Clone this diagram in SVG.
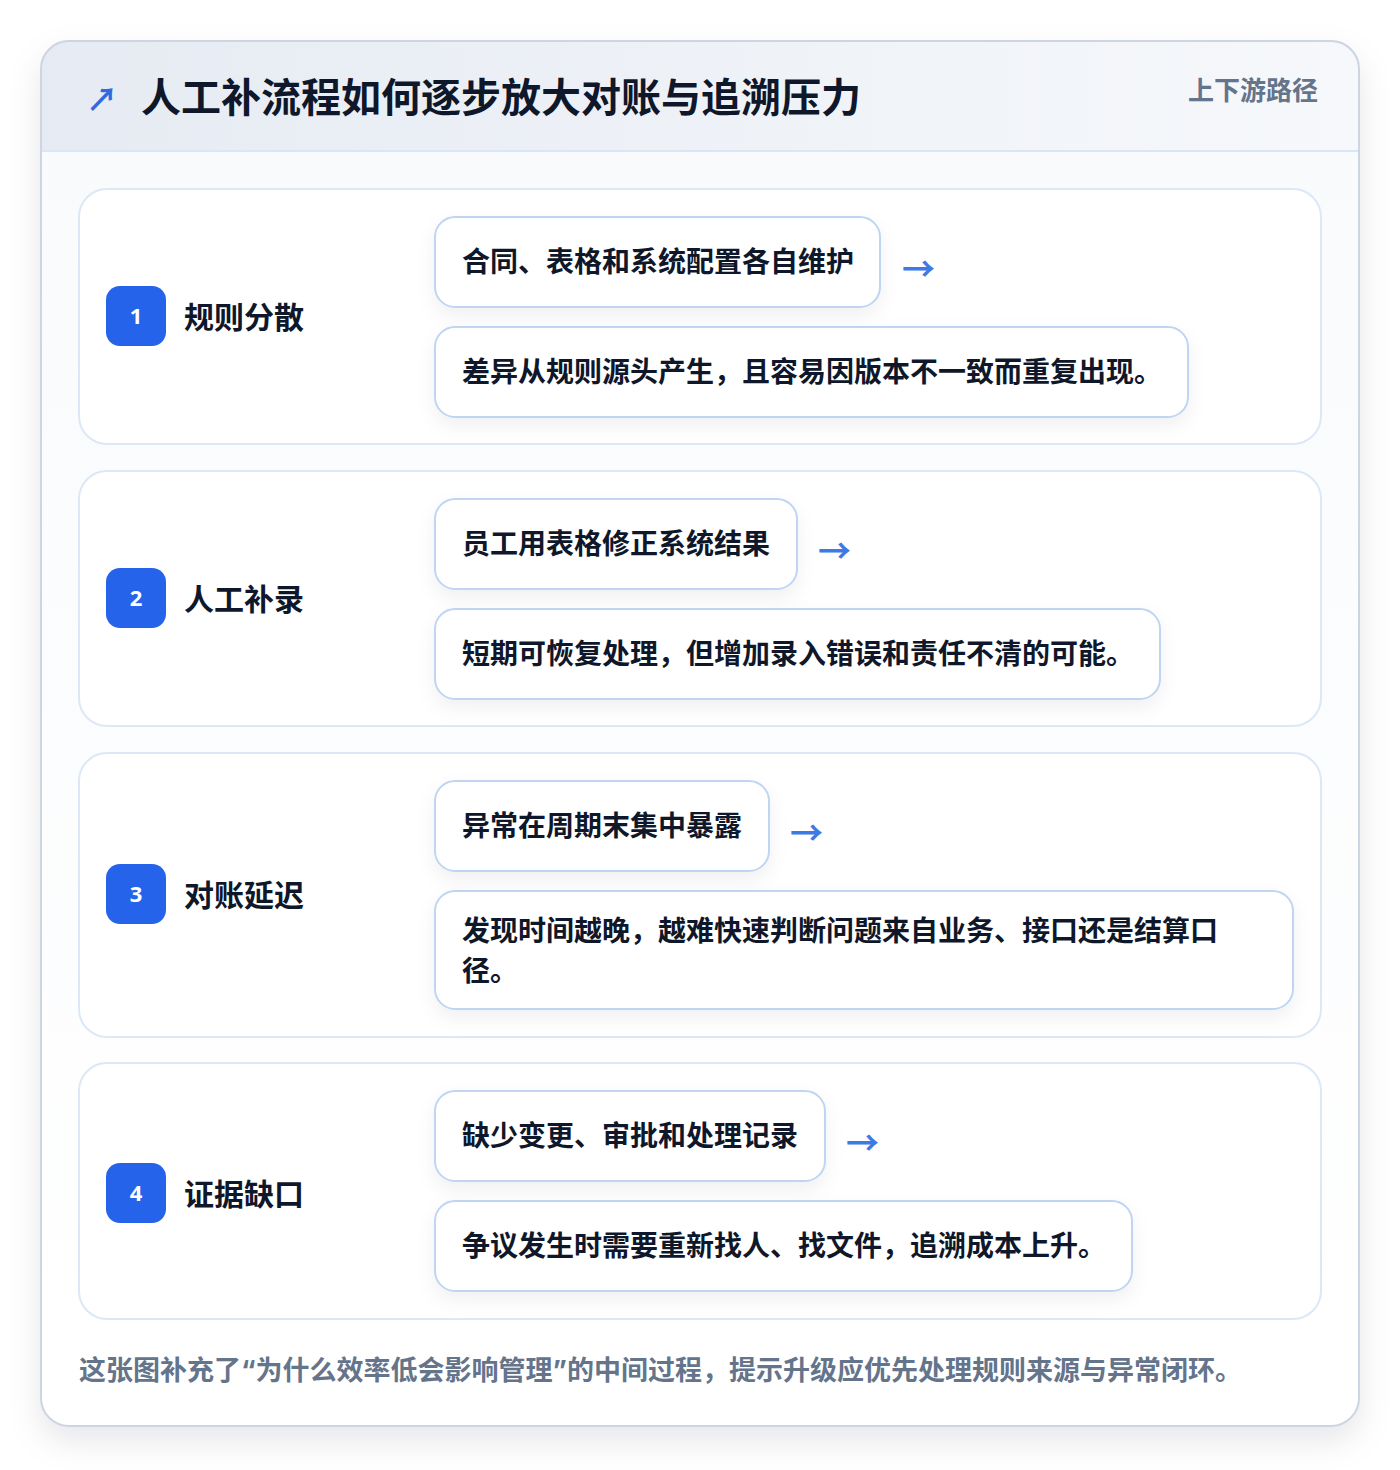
<svg xmlns="http://www.w3.org/2000/svg" width="1400" height="1470" viewBox="0 0 1400 1470">
<defs>
<linearGradient id="hdr" x1="0" y1="0" x2="1" y2="0">
<stop offset="0" stop-color="#e6ebf3"/>
<stop offset="1" stop-color="#f6f8fb"/>
</linearGradient>
<linearGradient id="body" x1="0" y1="0" x2="0" y2="1">
<stop offset="0" stop-color="#f8fafc"/>
<stop offset="1" stop-color="#ffffff"/>
</linearGradient>
<filter id="outerShadow" x="-10%" y="-10%" width="120%" height="120%">
<feDropShadow dx="0" dy="14" stdDeviation="16" flood-color="#0f172a" flood-opacity="0.10"/>
</filter>
<filter id="boxShadow" x="-10%" y="-20%" width="120%" height="150%">
<feDropShadow dx="0" dy="8" stdDeviation="9" flood-color="#0f172a" flood-opacity="0.06"/>
</filter>
<clipPath id="cardClip"><rect x="41" y="41" width="1318" height="1385" rx="28"/></clipPath>
</defs>
<style>
.t{font-family:"Noto Sans CJK SC","Noto Sans",sans-serif;font-weight:700}
.row{fill:#ffffff;stroke:#dde8f6;stroke-width:2}
.box{fill:#ffffff;stroke:#bfd5f3;stroke-width:2}
.badge{fill:#2563eb}
.num{font-family:"Noto Sans","Noto Sans CJK SC",sans-serif;font-weight:700;font-size:22px;fill:#ffffff}
.lbl{font-size:30px;fill:#0f172a}
.bt{font-size:28px;fill:#0f172a}
.arr{font-size:33px;fill:#3b7be3}
</style>
<rect width="1400" height="1470" fill="#ffffff"/>
<rect x="41" y="41" width="1318" height="1385" rx="28" fill="url(#body)" filter="url(#outerShadow)"/>
<g clip-path="url(#cardClip)">
<rect x="41" y="41" width="1318" height="110" fill="url(#hdr)"/>
<line x1="41" y1="151" x2="1359" y2="151" stroke="#dbe6f5" stroke-width="2"/>
</g>
<rect x="41" y="41" width="1318" height="1385" rx="28" fill="none" stroke="#ccd5e1" stroke-width="2"/>
<g id="header">
<text class="t" x="86" y="111" font-size="32" fill="#2f6be0">↗</text>
<text class="t" x="141" y="112" font-size="40" fill="#0f172a">人工补流程如何逐步放大对账与追溯压力</text>
<text class="t" x="1318" y="100" font-size="26" fill="#64748b" text-anchor="end">上下游路径</text>
</g>
<g id="row1">
<rect class="row" x="79" y="189" width="1242" height="255" rx="28"/>
<rect class="badge" x="106" y="286" width="60" height="60" rx="14"/>
<text class="num" x="136" y="324" text-anchor="middle">1</text>
<text class="t lbl" x="184" y="328">规则分散</text>
</g>
<g id="row1-a">
<rect class="box" x="435" y="217" width="445" height="90" rx="20" filter="url(#boxShadow)"/>
<text class="t bt" x="462" y="272">合同、表格和系统配置各自维护</text>
</g>
<g id="row1-b">
<rect class="box" x="435" y="327" width="753" height="90" rx="20" filter="url(#boxShadow)"/>
<text class="t bt" x="462" y="382">差异从规则源头产生，且容易因版本不一致而重复出现。</text>
</g>
<g id="row2">
<rect class="row" x="79" y="471" width="1242" height="255" rx="28"/>
<rect class="badge" x="106" y="568" width="60" height="60" rx="14"/>
<text class="num" x="136" y="606" text-anchor="middle">2</text>
<text class="t lbl" x="184" y="610">人工补录</text>
</g>
<g id="row2-a">
<rect class="box" x="435" y="499" width="362" height="90" rx="20" filter="url(#boxShadow)"/>
<text class="t bt" x="462" y="554">员工用表格修正系统结果</text>
</g>
<g id="row2-b">
<rect class="box" x="435" y="609" width="725" height="90" rx="20" filter="url(#boxShadow)"/>
<text class="t bt" x="462" y="664">短期可恢复处理，但增加录入错误和责任不清的可能。</text>
</g>
<g id="row3">
<rect class="row" x="79" y="753" width="1242" height="284" rx="28"/>
<rect class="badge" x="106" y="864" width="60" height="60" rx="14"/>
<text class="num" x="136" y="902" text-anchor="middle">3</text>
<text class="t lbl" x="184" y="906">对账延迟</text>
</g>
<g id="row3-a">
<rect class="box" x="435" y="781" width="334" height="90" rx="20" filter="url(#boxShadow)"/>
<text class="t bt" x="462" y="836">异常在周期末集中暴露</text>
</g>
<g id="row3-b">
<rect class="box" x="435" y="891" width="858" height="118" rx="20" filter="url(#boxShadow)"/>
<text class="t bt" x="462" y="941">发现时间越晚，越难快速判断问题来自业务、接口还是结算口</text>
<text class="t bt" x="462" y="981">径。</text>
</g>
<g id="row4">
<rect class="row" x="79" y="1063" width="1242" height="256" rx="28"/>
<rect class="badge" x="106" y="1163" width="60" height="60" rx="14"/>
<text class="num" x="136" y="1201" text-anchor="middle">4</text>
<text class="t lbl" x="184" y="1205">证据缺口</text>
</g>
<g id="row4-a">
<rect class="box" x="435" y="1091" width="390" height="90" rx="20" filter="url(#boxShadow)"/>
<text class="t bt" x="462" y="1146">缺少变更、审批和处理记录</text>
</g>
<g id="row4-b">
<rect class="box" x="435" y="1201" width="697" height="90" rx="20" filter="url(#boxShadow)"/>
<text class="t bt" x="462" y="1256">争议发生时需要重新找人、找文件，追溯成本上升。</text>
</g>
<g id="connectors">
<text class="t arr" x="902" y="281">→</text>
<text class="t arr" x="818" y="563">→</text>
<text class="t arr" x="790" y="845">→</text>
<text class="t arr" x="846" y="1155">→</text>
</g>
<g id="footer">
<text x="79" y="1380" font-size="27" font-weight="700" fill="#64748b" font-family="Inter,'Noto Sans CJK SC',sans-serif">这张图补充了“为什么效率低会影响管理”的中间过程，提示升级应优先处理规则来源与异常闭环。</text>
</g>
</svg>
